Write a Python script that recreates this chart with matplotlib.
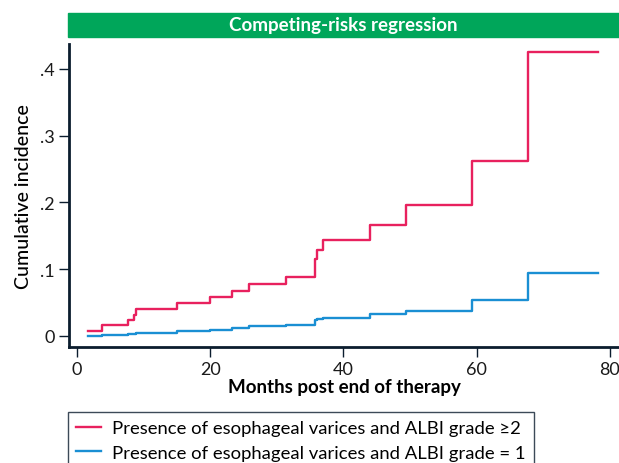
import matplotlib
matplotlib.use('Agg')
import matplotlib.pyplot as plt
from matplotlib.patches import Rectangle
from matplotlib.ticker import FuncFormatter

plt.rcParams['font.family'] = ['Lato', 'DejaVu Sans']

# step times (months) and cumulative incidence after each step
t_grade2 = [1.65, 3.8, 7.7, 8.5, 8.9, 15.0, 20.0, 23.3, 25.8, 31.4, 35.8, 36.1, 36.9,
            44.0, 49.4, 59.3, 67.7, 78.2]
ci_grade2 = [0.0075, 0.0165, 0.024, 0.031, 0.0405, 0.049, 0.058, 0.068, 0.078, 0.089,
             0.115, 0.129, 0.1437, 0.1666, 0.196, 0.262, 0.4247, 0.4247]

t_grade1 = [1.65, 3.8, 7.7, 8.9, 15.0, 20.0, 23.3, 25.8, 31.4, 35.8, 36.1, 37.0,
            44.0, 49.4, 59.3, 67.8, 78.2]
ci_grade1 = [0.0, 0.001, 0.0025, 0.005, 0.007, 0.0095, 0.012, 0.0145, 0.017, 0.024,
             0.0255, 0.027, 0.0325, 0.0375, 0.0534, 0.0943, 0.0943]

labels = ['Presence of esophageal varices and ALBI grade \u22652',
          'Presence of esophageal varices and ALBI grade = 1']
colors = ['#E8215E', '#1A8FD3']
navy = '#0B1D2E'

fig = plt.figure(figsize=(6.19, 4.64), dpi=100)
ax = fig.add_axes([69/619, 1 - 348/464, 1 - 69/619, (348 - 45)/464])

ax.step(t_grade2, ci_grade2, where='post', color=colors[0], lw=1.7, label=labels[0])
ax.step(t_grade1, ci_grade1, where='post', color=colors[1], lw=1.7, label=labels[1])

ax.set_xlim(-1.2, 81.4)
ax.set_ylim(-0.0165, 0.437)
ax.set_xticks([0, 20, 40, 60, 80])
ax.set_yticks([0, 0.1, 0.2, 0.3, 0.4])
ax.yaxis.set_major_formatter(FuncFormatter(lambda v, p: '0' if v == 0 else f'{v:.1f}'.lstrip('0')))

for s in ['top', 'right']:
    ax.spines[s].set_visible(False)
for s in ['left', 'bottom']:
    ax.spines[s].set_color(navy)
    ax.spines[s].set_linewidth(2)
ax.tick_params(direction='out', length=7, width=1, color=navy, labelsize=13,
               labelcolor='#1a1a1a', pad=3)

ax.set_xlabel('Months post end of therapy', fontsize=13.5, fontweight='bold', labelpad=1)
ax.set_ylabel('Cumulative incidence', fontsize=14, fontweight='medium', labelpad=6)

# green title bar
fig.patches.append(Rectangle((68/619, 1 - 38/464), 1 - 68/619, 24/464,
                             transform=fig.transFigure, color='#00A65A', zorder=0))
fig.text((68 + 619)/2/619, 1 - 26/464, 'Competing-risks regression', color='white',
         fontsize=13.5, fontweight='bold', ha='center', va='center')

leg = fig.legend(loc='upper left', bbox_to_anchor=(68/619, 1 - 413/464), fontsize=13.3,
                 frameon=True, fancybox=False, handlelength=1.35, handletextpad=0.6,
                 borderpad=0.45, labelspacing=0.45, borderaxespad=0)
leg.get_frame().set_edgecolor(navy)
leg.get_frame().set_linewidth(1)

fig.savefig('out.png', dpi=100)
